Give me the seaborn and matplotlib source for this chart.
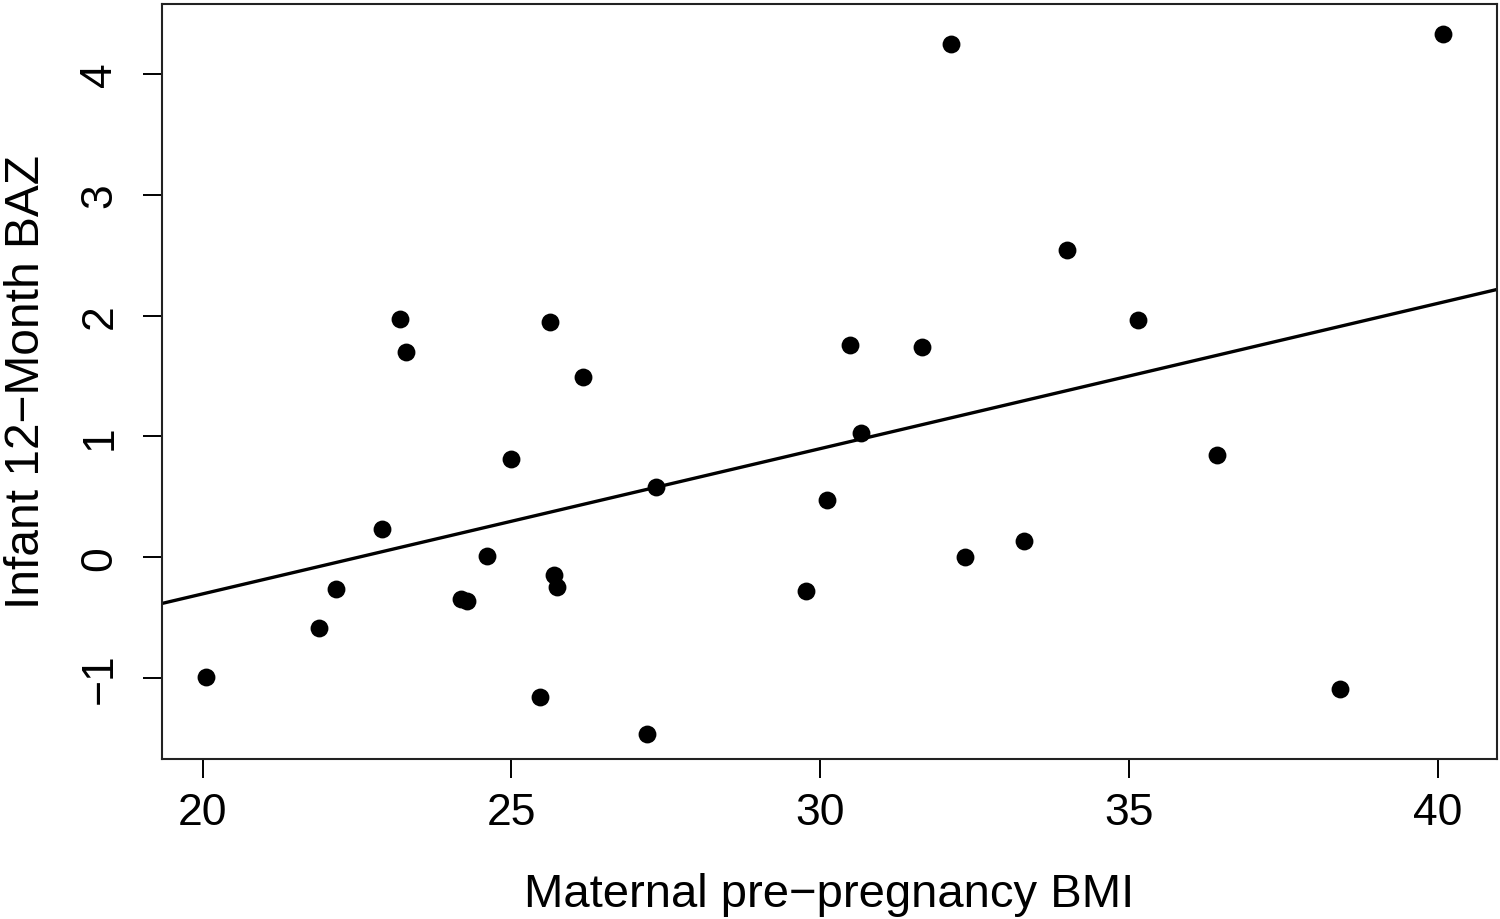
import matplotlib
matplotlib.use("Agg")
import matplotlib.pyplot as plt
import seaborn as sns
import pandas as pd
import numpy as np

# values
bmi = [20.06, 21.89, 22.16, 22.91, 23.19, 23.29, 24.18, 24.28, 24.60, 24.99,
       25.46, 25.62, 25.69, 25.73, 26.15, 27.19, 27.34, 29.77, 30.11, 30.48,
       30.66, 31.65, 32.11, 32.34, 33.30, 33.99, 35.14, 36.42, 38.41, 40.08]
baz = [-0.99, -0.59, -0.265, 0.23, 1.97, 1.70, -0.35, -0.36, 0.01, 0.81,
       -1.16, 1.95, -0.15, -0.25, 1.49, -1.46, 0.58, -0.28, 0.47, 1.76,
       1.03, 1.74, 4.25, 0.0, 0.13, 2.54, 1.96, 0.85, -1.09, 4.33]

x_ticks = [20, 25, 30, 35, 40]
y_ticks = [-1, 0, 1, 2, 3, 4]
x_label = "Maternal pre\u2212pregnancy BMI"
y_label = "Infant 12\u2212Month BAZ"

df = pd.DataFrame({"bmi": bmi, "baz": baz})

sns.set_style("white")
plt.rcParams['font.family'] = ['Liberation Sans', 'DejaVu Sans']

fig = plt.figure(figsize=(15, 9.2), dpi=100)
ax = fig.add_axes([0.108, 0.174, 0.890, 0.8206])

sns.regplot(data=df, x="bmi", y="baz", ax=ax, ci=None, truncate=False,
            scatter_kws=dict(s=165, color="black", alpha=1, linewidths=0),
            line_kws=dict(color="black", linewidth=2.4))

ax.set_xlim(19.34, 40.96)
ax.set_ylim(-1.67, 4.58)
ax.set_xticks(x_ticks)
ax.set_yticks(y_ticks)
ax.set_xticklabels([str(t) for t in x_ticks])
ax.set_yticklabels(["\u22121" if t < 0 else str(t) for t in y_ticks],
                   rotation=90, va="center")
ax.tick_params(axis="both", direction="out", length=14, width=1.4,
               color="black", labelsize=32, labelcolor="black",
               bottom=True, left=True)
ax.tick_params(axis="x", pad=10)
ax.tick_params(axis="y", pad=16)
for sp in ax.spines.values():
    sp.set_visible(True)
    sp.set_color("#222222")
    sp.set_linewidth(1.5)

ax.set_xlabel(x_label, fontsize=34, labelpad=28, color="black")
ax.set_ylabel(y_label, fontsize=34.5, labelpad=22, color="black")

plt.savefig("out.png", dpi=100)
